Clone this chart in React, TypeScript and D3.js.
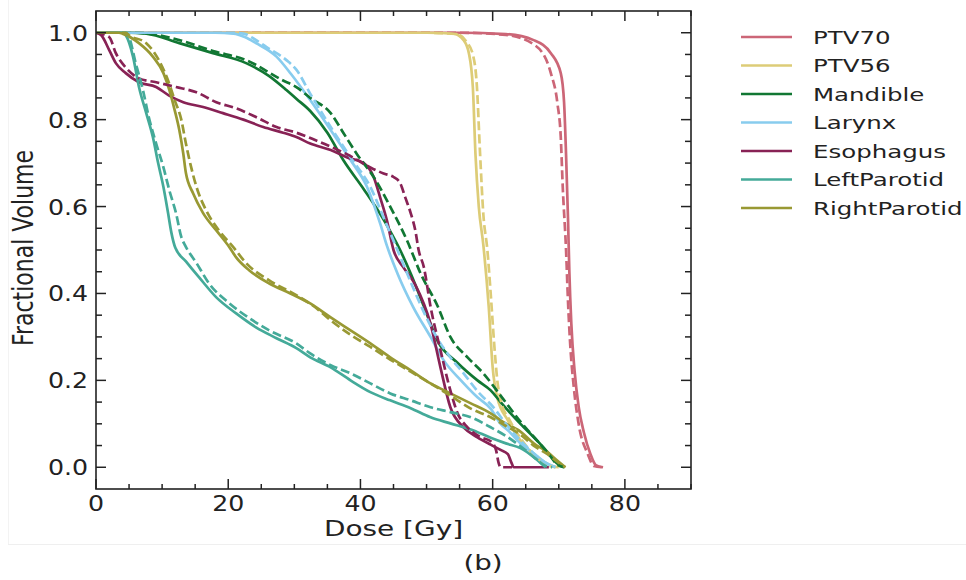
import React, { useEffect, useRef } from 'react'
import * as d3 from 'd3'

// dose [Gy], fractional volume  -- solid = clinical plan, dashed = predicted
const STRUCTURES = ['PTV70', 'PTV56', 'Mandible', 'Larynx', 'Esophagus', 'LeftParotid', 'RightParotid']
const COLORS = ['#cc6677', '#ddcc77', '#117733', '#88ccee', '#882255', '#44aa99', '#999933']

const PTV70_PLAN = [[0, 1], [55, 1], [62, 0.997], [66.2, 0.983], [68.8, 0.953], [70.3, 0.907], [70.8, 0.84], [71.1, 0.72], [71.4, 0.57], [71.6, 0.45], [71.9, 0.33], [72.4, 0.22], [73, 0.14], [73.8, 0.08], [74.8, 0.03], [75.6, 0.005], [76.7, 0]]
const PTV70_PRED = [[0, 1], [55, 1], [62, 0.995], [66.5, 0.97], [68.8, 0.907], [69.8, 0.837], [70.3, 0.76], [70.6, 0.645], [71.1, 0.5], [71.4, 0.38], [71.7, 0.29], [72.3, 0.18], [73, 0.1], [74.4, 0.03], [75.3, 0.003], [76.5, 0]]

const PTV56_PLAN = [[0, 1], [50, 1], [54.1, 0.998], [55.6, 0.983], [56.4, 0.953], [57, 0.875], [57.4, 0.72], [57.9, 0.6], [58.6, 0.51], [59.4, 0.37], [60, 0.23], [60.7, 0.16], [62.3, 0.108], [64.2, 0.062], [66.8, 0.023], [69.2, 0.002], [70, 0]]
const PTV56_PRED = [[0, 1], [50, 1], [54.5, 0.997], [56, 0.98], [57, 0.95], [57.6, 0.88], [58.1, 0.72], [58.6, 0.58], [59.2, 0.5], [59.7, 0.4], [60.2, 0.29], [60.7, 0.2], [61.3, 0.15], [62.5, 0.11], [64.3, 0.065], [66.5, 0.025], [68.5, 0.003], [69.5, 0]]

const MANDIBLE_PLAN = [[0, 1], [5, 1], [7.6, 0.998], [12.6, 0.976], [17.7, 0.953], [22.7, 0.93], [26.2, 0.9], [28.8, 0.868], [30.3, 0.848], [32.4, 0.82], [35, 0.77], [37.4, 0.707], [40.5, 0.64], [43.5, 0.57], [46, 0.5], [47.6, 0.446], [49.6, 0.37], [51.7, 0.29], [54.7, 0.24], [57.7, 0.2], [59.7, 0.177], [61.2, 0.15], [64.2, 0.1], [66.8, 0.06], [68.3, 0.035], [69.8, 0.008], [70.8, 0]]
const MANDIBLE_PRED = [[0, 1], [6, 1], [8, 0.998], [12.6, 0.983], [17.7, 0.958], [22.7, 0.937], [28.3, 0.89], [30.3, 0.875], [32.4, 0.85], [35.5, 0.815], [37.4, 0.77], [39.5, 0.72], [42, 0.668], [44.5, 0.6], [47.1, 0.52], [49.1, 0.446], [51.7, 0.37], [53.6, 0.3], [56.2, 0.253], [58.6, 0.216], [61.2, 0.165], [64.2, 0.105], [66.8, 0.06], [68.5, 0.03], [69.8, 0.006], [70.8, 0]]

const LARYNX_PLAN = [[0, 1], [18, 1], [20.8, 0.998], [22.5, 0.99], [24.2, 0.976], [27.3, 0.945], [29.5, 0.905], [32.4, 0.845], [35.5, 0.776], [38.5, 0.707], [41, 0.645], [43, 0.56], [44, 0.51], [45.6, 0.446], [48, 0.368], [50.6, 0.3], [52.6, 0.246], [55.2, 0.2], [57.7, 0.161], [59.7, 0.135], [61.2, 0.1], [62.3, 0.085], [64.2, 0.055], [66.2, 0.032], [68.3, 0.008], [69.5, 0]]
const LARYNX_PRED = [[0, 1], [20, 1], [22.3, 0.998], [24, 0.985], [25.8, 0.967], [28.8, 0.937], [30.3, 0.915], [32.4, 0.86], [35.5, 0.783], [38.5, 0.713], [41.5, 0.645], [43.5, 0.575], [45.6, 0.5], [47.5, 0.43], [49.5, 0.36], [51.5, 0.3], [53.5, 0.255], [55.6, 0.216], [58, 0.17], [60, 0.14], [62, 0.1], [64, 0.065], [66, 0.035], [68, 0.01], [69.5, 0]]

const ESOPHAGUS_PLAN = [[0, 1], [0.8, 0.994], [2, 0.96], [3, 0.93], [4.5, 0.907], [6.5, 0.886], [9.1, 0.875], [11, 0.856], [13.2, 0.84], [16.2, 0.829], [19.2, 0.815], [22.3, 0.8], [25.3, 0.783], [28.3, 0.77], [30.3, 0.76], [32.4, 0.745], [35.5, 0.73], [38, 0.713], [40.5, 0.7], [42, 0.668], [43, 0.62], [44, 0.568], [45, 0.5], [46.5, 0.46], [48.3, 0.42], [50.6, 0.33], [52.1, 0.23], [53.6, 0.138], [55.6, 0.092], [57.7, 0.069], [59.7, 0.052], [61.2, 0.04], [62.3, 0.03], [62.8, 0.012], [63.2, 0], [68.5, 0]]
const ESOPHAGUS_PRED = [[0, 1], [2, 0.99], [3, 0.953], [4.5, 0.92], [6.5, 0.895], [9.1, 0.886], [12.1, 0.875], [15.2, 0.863], [18.2, 0.84], [21.2, 0.826], [24.2, 0.806], [27.3, 0.783], [30.3, 0.77], [34.4, 0.745], [38, 0.72], [41.5, 0.69], [43.5, 0.676], [45, 0.668], [46, 0.654], [46.8, 0.62], [47.6, 0.585], [48.3, 0.545], [48.8, 0.5], [49.6, 0.46], [50.6, 0.37], [52.1, 0.27], [53.6, 0.177], [54.7, 0.124], [56.2, 0.092], [58.2, 0.069], [59.7, 0.06], [60.5, 0.04], [60.9, 0.01], [61.2, 0], [63, 0]]

const LEFTPAROTID_PLAN = [[0, 1], [4, 1], [4.5, 0.994], [5.6, 0.945], [6.5, 0.875], [7.6, 0.815], [8.6, 0.76], [9.4, 0.7], [10.2, 0.645], [10.9, 0.585], [11.4, 0.54], [12, 0.505], [13.6, 0.474], [15.6, 0.437], [18.2, 0.391], [21.2, 0.354], [24.2, 0.322], [27.3, 0.297], [30.3, 0.274], [32.4, 0.253], [35.5, 0.23], [38.5, 0.2], [41.5, 0.173], [44.5, 0.154], [47.6, 0.136], [50.6, 0.115], [53.6, 0.101], [56.7, 0.087], [59.7, 0.068], [62, 0.055], [64.2, 0.044], [66.5, 0.02], [68, 0]]
const LEFTPAROTID_PRED = [[0, 1], [4.5, 1], [5, 0.99], [6, 0.93], [7.1, 0.868], [8, 0.805], [9.1, 0.745], [10.2, 0.69], [11.1, 0.637], [12.1, 0.585], [12.9, 0.53], [13.5, 0.51], [15.2, 0.47], [17.1, 0.423], [20.2, 0.377], [23.2, 0.343], [26.2, 0.315], [30.3, 0.285], [32.4, 0.262], [35.5, 0.235], [38.5, 0.216], [41.5, 0.193], [44.5, 0.17], [47.6, 0.154], [50.6, 0.138], [53.6, 0.127], [56.7, 0.115], [59.7, 0.092], [62, 0.072], [64.5, 0.045], [66.5, 0.02], [68, 0.003], [69, 0]]

const RIGHTPAROTID_PLAN = [[0, 1], [3.5, 1], [4, 0.998], [6.5, 0.976], [8.6, 0.945], [10.2, 0.907], [11.1, 0.868], [11.9, 0.822], [12.6, 0.776], [13.2, 0.722], [13.6, 0.677], [14.7, 0.63], [16.2, 0.585], [18.2, 0.545], [20.2, 0.506], [21.2, 0.483], [23.2, 0.453], [26.2, 0.423], [29.4, 0.4], [32.4, 0.377], [35.5, 0.345], [38.5, 0.315], [41.5, 0.285], [44.5, 0.253], [47.6, 0.223], [50.6, 0.193], [53.6, 0.17], [56.7, 0.147], [59.7, 0.124], [61.5, 0.105], [64.2, 0.082], [66.2, 0.055], [68.3, 0.035], [69.8, 0.015], [71, 0]]
const RIGHTPAROTID_PRED = [[0, 1], [4.5, 1], [5, 0.994], [7.6, 0.976], [9.5, 0.937], [10.9, 0.89], [11.9, 0.845], [12.9, 0.8], [13.6, 0.745], [14.4, 0.69], [15.2, 0.645], [16.7, 0.59], [18.6, 0.545], [20.8, 0.506], [22.7, 0.47], [26.2, 0.43], [30.3, 0.396], [33, 0.37], [35.5, 0.338], [38.5, 0.305], [41.5, 0.277], [44.5, 0.248], [47.6, 0.22], [50.6, 0.193], [53.6, 0.165], [56.7, 0.135], [59.7, 0.115], [62, 0.095], [64.2, 0.075], [66.2, 0.05], [68.3, 0.03], [70, 0.01], [71, 0]]

const PLAN = [PTV70_PLAN, PTV56_PLAN, MANDIBLE_PLAN, LARYNX_PLAN, ESOPHAGUS_PLAN, LEFTPAROTID_PLAN, RIGHTPAROTID_PLAN]
const PRED = [PTV70_PRED, PTV56_PRED, MANDIBLE_PRED, LARYNX_PRED, ESOPHAGUS_PRED, LEFTPAROTID_PRED, RIGHTPAROTID_PRED]

const X_MAJOR = [0, 20, 40, 60, 80]
const Y_MAJOR = [0, 0.2, 0.4, 0.6, 0.8, 1.0]

const W = 966
const H = 580
const FONT = 'DejaVu Sans, sans-serif'
const INK = '#222'

export default function App() {
  const ref = useRef<SVGSVGElement>(null)

  useEffect(() => {
    const svg = d3.select(ref.current)
    svg.selectAll('*').remove()

    const m = { left: 96, top: 11, right: 691, bottom: 489 }
    const x = d3.scaleLinear().domain([0, 90]).range([m.left, m.right])
    const y = d3.scaleLinear().domain([-0.05, 1.05]).range([m.bottom, m.top])

    svg.append('rect').attr('width', W).attr('height', H).attr('fill', '#fff')
    // faint border of the original figure
    svg.append('line').attr('x1', 8).attr('x2', W).attr('y1', 544.5).attr('y2', 544.5).attr('stroke', '#efefef')
    svg.append('line').attr('x1', 8.5).attr('x2', 8.5).attr('y1', 0).attr('y2', 544).attr('stroke', '#f3f3f3')

    svg.append('clipPath').attr('id', 'plot-clip')
      .append('rect').attr('x', m.left).attr('y', m.top)
      .attr('width', m.right - m.left).attr('height', m.bottom - m.top)

    const line = d3.line<number[]>()
      .x(d => x(d[0]))
      .y(d => y(d[1]))
      .curve(d3.curveMonotoneX)

    const curves = svg.append('g').attr('clip-path', 'url(#plot-clip)').attr('fill', 'none')
      .attr('stroke-linejoin', 'round')
    PLAN.forEach((s, i) => {
      curves.append('path').attr('d', line(s)).attr('stroke', COLORS[i]).attr('stroke-width', 2.7)
    })
    PRED.forEach((s, i) => {
      curves.append('path').attr('d', line(s)).attr('stroke', COLORS[i]).attr('stroke-width', 2.7)
        .attr('stroke-dasharray', '9,4')
    })

    // ticks pointing inward on all four sides
    const xMinor = d3.range(0, 91, 5).filter(v => !X_MAJOR.includes(v))
    const yMinor = d3.range(0, 21).map(v => v * 0.05).filter(v => Math.round(v * 100) % 20 !== 0)
    const ticks = svg.append('g').attr('stroke', INK).attr('stroke-width', 1.5)
    const addX = (vals: number[], len: number) => vals.forEach(v => {
      ticks.append('line').attr('x1', x(v)).attr('x2', x(v)).attr('y1', m.bottom).attr('y2', m.bottom - len)
      ticks.append('line').attr('x1', x(v)).attr('x2', x(v)).attr('y1', m.top).attr('y2', m.top + len)
    })
    const addY = (vals: number[], len: number) => vals.forEach(v => {
      ticks.append('line').attr('y1', y(v)).attr('y2', y(v)).attr('x1', m.left).attr('x2', m.left + len)
      ticks.append('line').attr('y1', y(v)).attr('y2', y(v)).attr('x1', m.right).attr('x2', m.right - len)
    })
    addX(X_MAJOR, 10)
    addX(xMinor, 5)
    addY(Y_MAJOR, 10)
    addY(yMinor, 6)

    svg.append('rect').attr('x', m.left).attr('y', m.top)
      .attr('width', m.right - m.left).attr('height', m.bottom - m.top)
      .attr('fill', 'none').attr('stroke', INK).attr('stroke-width', 1.6)

    // the source image is stretched sideways, so text is too
    const label = (tx: number, ty: number, txt: string, size: number, sx: number, anchor: string) =>
      svg.append('text')
        .attr('transform', `translate(${tx},${ty}) scale(${sx},1)`)
        .attr('text-anchor', anchor)
        .attr('font-family', FONT)
        .attr('font-size', size)
        .attr('fill', INK)
        .text(txt)

    X_MAJOR.forEach(v => label(x(v), 511, String(v), 20.5, 1.23, 'middle'))
    Y_MAJOR.forEach(v => label(88, y(v) + 8, v.toFixed(1), 20.5, 1.23, 'end'))

    label(x(45), 536, 'Dose [Gy]', 22, 1.27, 'middle')
    svg.append('text')
      .attr('transform', `translate(33,${y(0.5) - 2}) scale(1.3,1) rotate(-90)`)
      .attr('text-anchor', 'middle')
      .attr('font-family', FONT)
      .attr('font-size', 22)
      .attr('fill', INK)
      .text('Fractional Volume')

    label(483, 570, '(b)', 22, 1.26, 'middle')

    // legend
    const lg = svg.append('g')
    STRUCTURES.forEach((name, i) => {
      const ly = 37 + i * 28.5
      lg.append('line').attr('x1', 741).attr('x2', 792).attr('y1', ly).attr('y2', ly)
        .attr('stroke', COLORS[i]).attr('stroke-width', 2.7)
      lg.append('text')
        .attr('transform', `translate(813,${ly + 6.5}) scale(1.4,1)`)
        .attr('font-family', FONT)
        .attr('font-size', 17.5)
        .attr('fill', INK)
        .text(name)
    })
  }, [])

  return (
    <svg ref={ref} width={W} height={H} style={{ position: 'absolute', left: 0, top: 0 }} />
  )
}
